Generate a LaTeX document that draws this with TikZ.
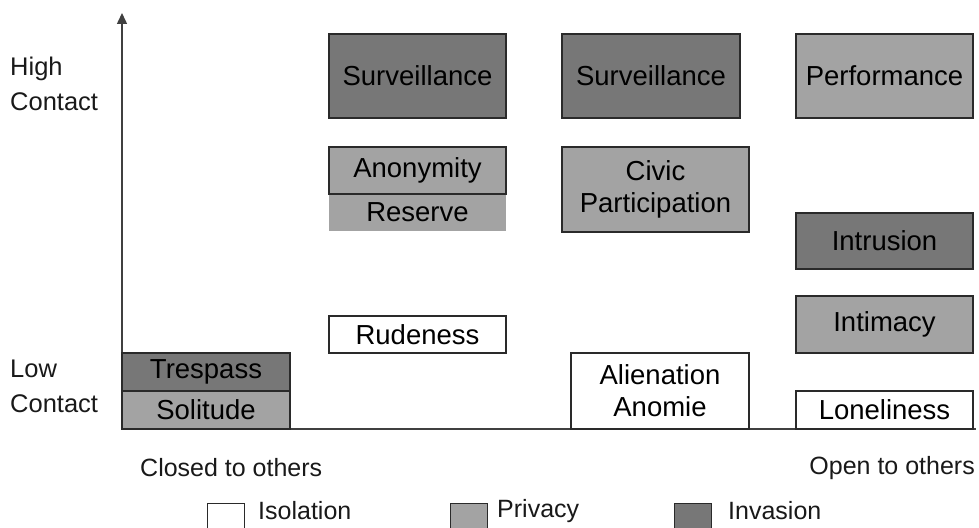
\documentclass[tikz,border=0pt]{standalone}
\usepackage{fontspec}
\setmainfont{Liberation Sans}
\usetikzlibrary{arrows.meta}
\definecolor{privacy}{HTML}{A3A3A3}
\definecolor{invasion}{HTML}{777777}
\definecolor{edge}{HTML}{2A2A2A}
\tikzset{
  cell/.style={draw=edge, line width=1.2pt, inner sep=0pt, outer sep=0pt, align=center,
    font=\fontsize{27.5}{32}\selectfont, text=black},
  iso/.style={cell, fill=white},
  priv/.style={cell, fill=privacy},
  inv/.style={cell, fill=invasion},
  axislbl/.style={font=\fontsize{25.5}{35}\selectfont, align=left, text=black!90, inner sep=0pt},
  leglbl/.style={font=\fontsize{25}{30}\selectfont, text=black!90, inner sep=0pt},
  legbox/.style={draw=edge, line width=1pt, minimum width=37pt, minimum height=28pt, inner sep=0pt, outer sep=0pt},
  axisline/.style={line width=1.5pt, draw=black!75}
}
\begin{document}
\begin{tikzpicture}[x=1pt,y=-1pt]
\useasboundingbox (0,0) rectangle (979,527);
% axes
\coordinate (O) at (122,429);
\coordinate (Ytop) at (122,13);
\coordinate (Xend) at (976,429);
\draw[axisline, -{Triangle[length=11pt,width=10pt]}] (O) -- (Ytop);
\draw[axisline] (O) -- (Xend);
% axis labels
\node[axislbl, anchor=west] (high) at (10,84) {High\\Contact};
\node[axislbl, anchor=west] (low) at (10,386) {Low\\Contact};
% column 1
\node[inv, minimum width=168pt, minimum height=38pt] (tres) at (206,372) {Trespass};
\node[priv, minimum width=168pt, minimum height=38pt] (sol) at (206,410) {Solitude};
% column 2
\node[inv, minimum width=177pt, minimum height=84pt] (surv1) at (417.5,76) {Surveillance};
\node[priv, draw=none, minimum width=177pt, minimum height=37pt] (res) at (417.5,212.5) {Reserve};
\node[priv, minimum width=177pt, minimum height=47pt] (anon) at (417.5,170.5) {Anonymity};
\node[iso, minimum width=177pt, minimum height=37pt] (rude) at (417.5,334.5) {Rudeness};
% column 3
\node[inv, minimum width=178pt, minimum height=84pt] (surv2) at (651,76) {Surveillance};
\node[priv, minimum width=187pt, minimum height=85pt] (civic) at (655.5,189.5) {Civic\\Participation};
\node[iso, minimum width=178pt, minimum height=76pt] (alien) at (660,391) {Alienation\\Anomie};
% column 4
\node[priv, minimum width=177pt, minimum height=84pt] (perf) at (884.5,76) {Performance};
\node[inv, minimum width=177pt, minimum height=56pt] (intr) at (884.5,241) {Intrusion};
\node[priv, minimum width=177pt, minimum height=57pt] (intim) at (884.5,324.5) {Intimacy};
\node[iso, minimum width=177pt, minimum height=38pt] (lone) at (884.5,410) {Loneliness};
% axis ends
\node[leglbl, anchor=west] (closed) at (140,468) {Closed to others};
\node[leglbl, anchor=east] (open) at (975,468) {Open to others};
% legend
\node[legbox, fill=white, anchor=north west] (lgiso) at (207,503) {};
\node[leglbl, anchor=west] (tiso) at (258,511) {Isolation};
\node[legbox, fill=privacy, anchor=north west] (lgpriv) at (450,503) {};
\node[leglbl, anchor=west] (tpriv) at (497,511) {Privacy};
\node[legbox, fill=invasion, anchor=north west] (lginv) at (674,503) {};
\node[leglbl, anchor=west] (tinv) at (728,511) {Invasion};
\end{tikzpicture}
\end{document}
